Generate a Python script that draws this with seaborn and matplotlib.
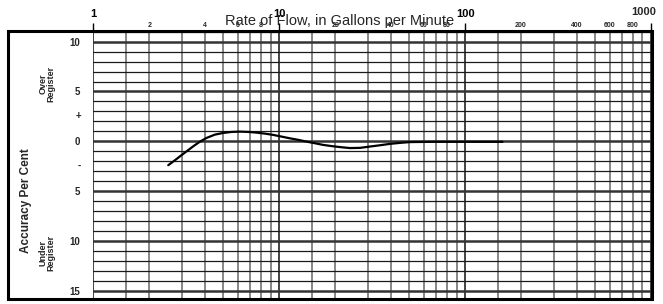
import numpy as np
import pandas as pd
import matplotlib
matplotlib.use("Agg")
import matplotlib.pyplot as plt
import matplotlib.ticker as mticker
from matplotlib.patches import Rectangle
import seaborn as sns

# values
flow_gpm = [2.53, 2.75, 2.93, 3.18, 3.45, 3.75, 4.07, 4.51, 5.0, 5.55, 6.15, 6.82,
            7.56, 8.38, 9.29, 10.3, 11.4, 12.7, 14.0, 15.6, 17.2, 19.1, 21.2, 24.0,
            27.2, 30.7, 34.8, 39.4, 44.6, 50.4, 70.0, 100.0, 159.0]
accuracy = [-2.40, -1.90, -1.50, -1.00, -0.50, -0.03, 0.34, 0.67, 0.84, 0.94, 0.97, 0.94,
            0.87, 0.77, 0.64, 0.47, 0.30, 0.14, -0.03, -0.20, -0.36, -0.48, -0.58, -0.68,
            -0.66, -0.53, -0.40, -0.26, -0.16, -0.08, -0.05, -0.05, -0.05]

major_x = [1, 10, 100, 1000]
major_x_labels = ["1", "10", "100", ""]
decade_steps = [1.5, 2, 3, 4, 5, 6, 7, 8, 9]
labelled_steps = [2, 4, 6, 8]

y_major = [-15, -10, -5, 0, 5, 10]
y_major_labels = ["15", "10", "5", "0", "5", "10"]
sign_pos = [2.5, -2.5]
sign_labels = ["+", "-"]

df = pd.DataFrame({"flow": flow_gpm, "acc": accuracy})

sns.set_style("white")
plt.rcParams["font.family"] = ["Liberation Sans", "DejaVu Sans"]

fig = plt.figure(figsize=(6.63, 3.04), dpi=100)
W, H = 663, 304
ax = fig.add_axes([93.3 / W, 5 / H, (651 - 93.3) / W, 268 / H])

ax.set_xscale("log")
ax.set_xlim(1, 1000)
ax.set_ylim(-15.83, 11.07)

minor_x = [d * s for d in [1, 10, 100] for s in decade_steps]
labelled = {d * s for d in [1, 10, 100] for s in labelled_steps}

ax.xaxis.tick_top()
ax.xaxis.set_major_locator(mticker.FixedLocator(major_x))
ax.xaxis.set_major_formatter(mticker.FixedFormatter(major_x_labels))
ax.xaxis.set_minor_locator(mticker.FixedLocator(minor_x))
ax.xaxis.set_minor_formatter(mticker.FuncFormatter(
    lambda v, p: "%g" % round(v) if any(abs(v - l) < 1e-6 for l in labelled) else ""))

ax.yaxis.set_major_locator(mticker.FixedLocator(y_major))
ax.yaxis.set_major_formatter(mticker.FixedFormatter(y_major_labels))
ax.yaxis.set_minor_locator(mticker.MultipleLocator(1))

ax.tick_params(axis="x", which="major", length=6, width=1, pad=2.5,
               labelsize=8, direction="out", colors="black")
ax.tick_params(axis="x", which="minor", length=0, pad=1.5, labelsize=5)
ax.tick_params(axis="y", which="major", length=4.5, width=1.5, pad=5,
               labelsize=7, direction="out", color="#333333")
ax.tick_params(axis="y", which="minor", length=0)
for lab in ax.get_xticklabels(which="both") + ax.get_yticklabels():
    lab.set_fontweight("bold")

ax.grid(True, axis="x", which="major", color="#222222", lw=1.2)
ax.grid(True, axis="x", which="minor", color="#666666", lw=1.1)
ax.grid(True, axis="y", which="major", color="#333333", lw=1.8)
ax.grid(True, axis="y", which="minor", color="#1a1a1a", lw=0.9)
ax.set_axisbelow(True)
for sp in ax.spines.values():
    sp.set_visible(False)

sns.lineplot(data=df, x="flow", y="acc", ax=ax, color="black", lw=1.6,
             sort=False, estimator=None, zorder=5)
ax.set_xlabel("")
ax.set_ylabel("")

# the 1000 label sits flush with the frame
ax.annotate("1000", xy=(1000, 1), xycoords=("data", "axes fraction"),
            xytext=(4, 10), textcoords="offset points", ha="right", va="bottom",
            fontsize=8, fontweight="bold")

for v, s in zip(sign_pos, sign_labels):
    ax.text(-0.026, v, s, transform=ax.get_yaxis_transform(), ha="center",
            va="center", fontsize=7, fontweight="bold")

fig.text(340 / W, 1 - 21 / H, "Rate of Flow, in Gallons per Minute",
         ha="center", va="center", fontsize=10.5)
fig.text(26 / W, 1 - 201 / H, "Accuracy Per Cent", rotation=90, ha="center",
         va="center", fontsize=8.5, fontweight="bold")
fig.text(47 / W, 1 - 84 / H, "Over\nRegister", rotation=90, ha="center",
         va="center", fontsize=6.5, fontweight="bold", linespacing=0.95,
         multialignment="center")
fig.text(47 / W, 1 - 253 / H, "Under\nRegister", rotation=90, ha="center",
         va="center", fontsize=6.5, fontweight="bold", linespacing=0.95,
         multialignment="center")

fig.add_artist(Rectangle((8 / W, 5 / H), 644 / W, 268 / H, transform=fig.transFigure,
                         fill=False, edgecolor="black", lw=2.2, zorder=10))

fig.savefig("out.png", dpi=100, facecolor="white")
